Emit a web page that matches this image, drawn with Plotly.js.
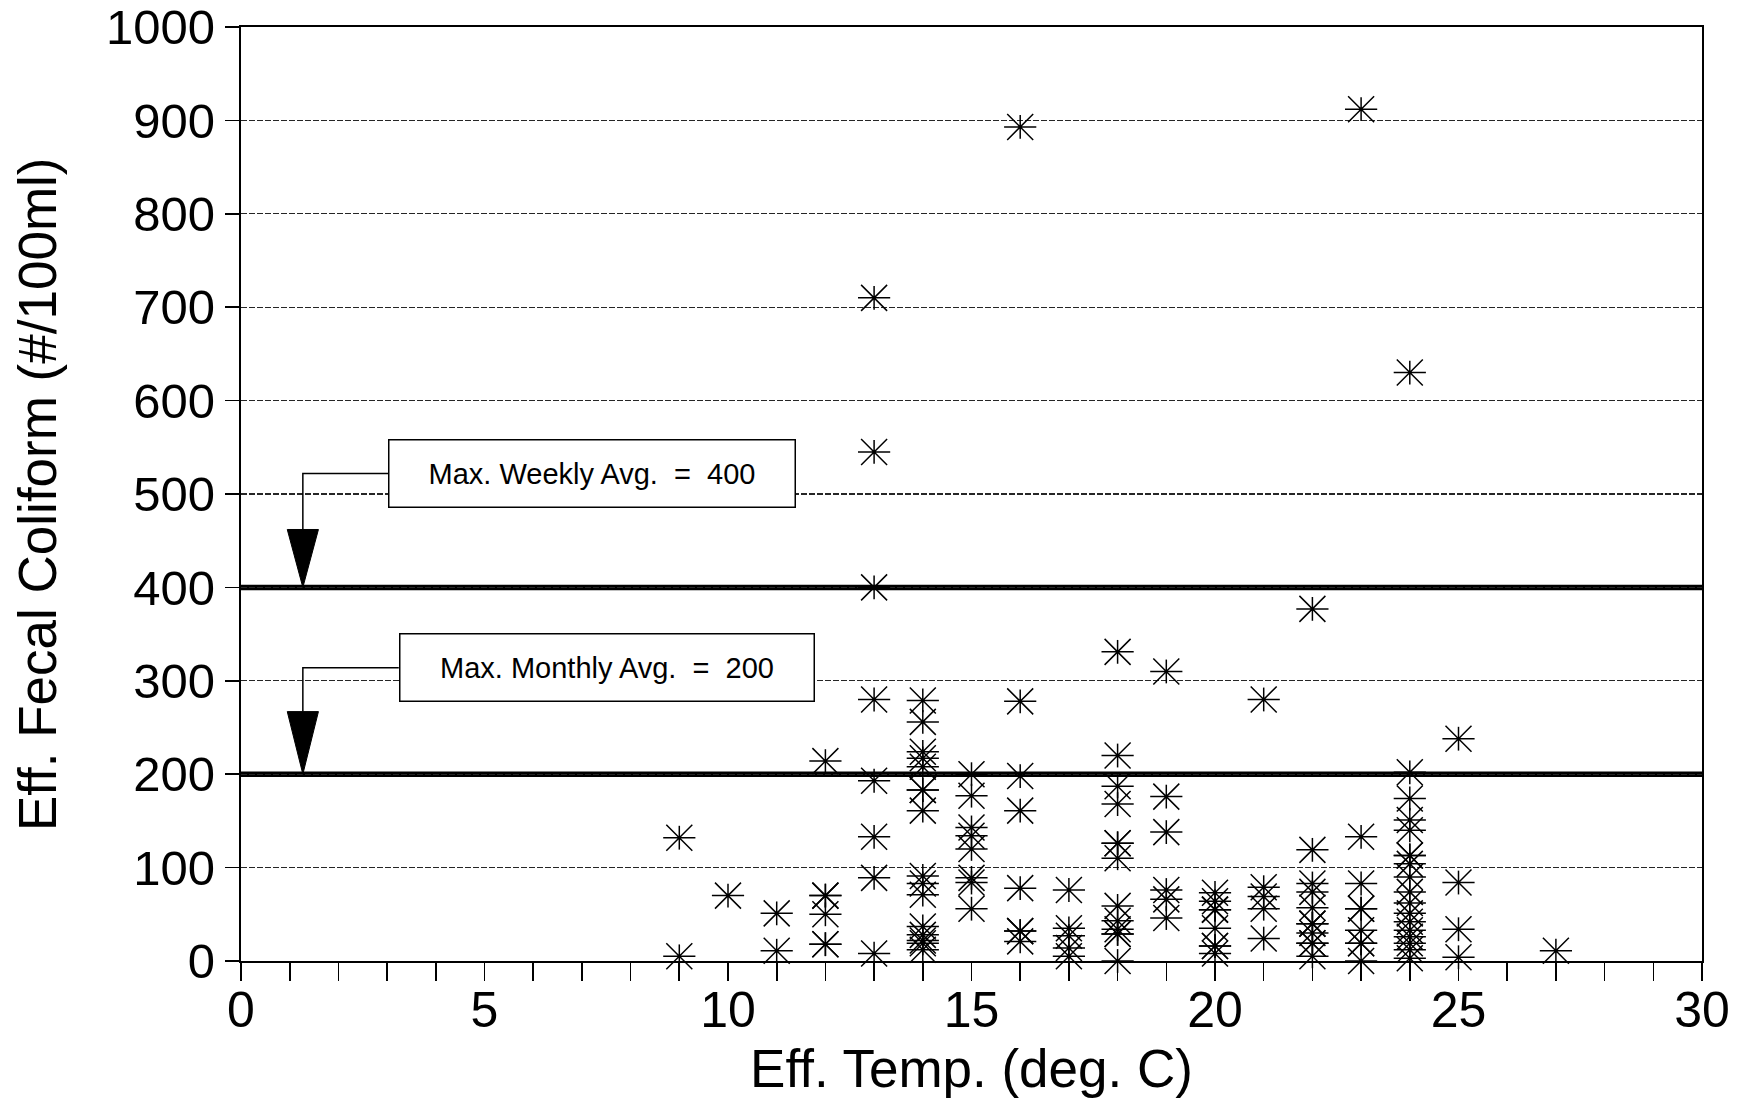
<!DOCTYPE html>
<html>
<head>
<meta charset="utf-8">
<script src="https://cdn.plot.ly/plotly-3.0.1.min.js"></script>
<style>
  html, body { margin: 0; padding: 0; background: #ffffff; }
  #chart { width: 1749px; height: 1098px; }
</style>
</head>
<body>
<div id="chart"></div>
<script>
// ---- Data ----
const effTempC = [
  9, 9,
  10,
  11, 11,
  12, 12, 12, 12, 12, 12,
  13, 13, 13, 13, 13, 13, 13, 13,
  14, 14, 14, 14, 14, 14, 14, 14, 14, 14, 14, 14, 14, 14, 14, 14,
  15, 15, 15, 15, 15, 15, 15, 15,
  16, 16, 16, 16, 16, 16, 16, 16,
  17, 17, 17, 17, 17,
  18, 18, 18, 18, 18, 18, 18, 18, 18, 18, 18, 18, 18,
  19, 19, 19, 19, 19, 19,
  20, 20, 20, 20, 20, 20, 20, 20,
  21, 21, 21, 21, 21,
  22, 22, 22, 22, 22, 22, 22, 22, 22, 22, 22,
  23, 23, 23, 23, 23, 23, 23, 23, 23,
  24, 24, 24, 24, 24, 24, 24, 24, 24, 24, 24, 24, 24, 24, 24, 24, 24, 24,
  25, 25, 25, 25,
  27
];
const effFecalColiform = [
  5, 132,
  70,
  51, 11,
  214, 70, 70, 50, 18, 18,
  710, 545, 400, 280, 193, 133, 89, 8,
  279, 256, 224, 217, 208, 183, 183, 161, 91, 83, 71, 37, 28, 22, 19, 12,
  200, 177, 143, 134, 120, 89, 84, 56,
  893, 278, 198, 161, 78, 32, 32, 21,
  76, 35, 27, 14, 5,
  331, 220, 187, 168, 126, 126, 110, 59, 43, 34, 29, 29, 0,
  310, 176, 138, 76, 66, 46,
  73, 64, 55, 55, 35, 16, 16, 8,
  280, 79, 69, 56, 24,
  377, 119, 83, 74, 57, 40, 40, 30, 19, 19, 5,
  912, 133, 83, 56, 56, 33, 19, 19, 0,
  630, 202, 174, 151, 140, 113, 113, 104, 90, 74, 62, 51, 42, 33, 26, 19, 12, 3,
  238, 84, 34, 4,
  11
];
const yTickVals = [0, 100, 200, 300, 400, 500, 600, 700, 800, 900, 1000];
const xTickVals = [0, 5, 10, 15, 20, 25, 30];
const maxWeeklyAvg = 400;
const maxMonthlyAvg = 200;
const NBSP2 = "\u00A0\u00A0";
const weeklyLabel = "Max. Weekly Avg." + NBSP2 + "=" + NBSP2 + maxWeeklyAvg;
const monthlyLabel = "Max. Monthly Avg." + NBSP2 + "=" + NBSP2 + maxMonthlyAvg;
const xTitle = "Eff. Temp. (deg. C)";
const yTitle = "Eff. Fecal Coliform (#/100ml)";

// ---- Styling ----
const FONT = "'Liberation Sans', Arial, Helvetica, sans-serif";
const lineStyle = { color: "#000", width: 1.5 };

function starPart(symbol, size) {
  return {
    type: "scatter", mode: "markers",
    x: effTempC, y: effFecalColiform,
    cliponaxis: false, hoverinfo: "x+y", showlegend: false,
    marker: { symbol: symbol, size: size, color: "#000", line: lineStyle }
  };
}

const traces = [
  starPart("line-ew-open", 23),
  starPart("line-ns-open", 17),
  starPart("x-thin-open", 26),
  { type: "scatter", mode: "markers", x: effTempC, y: effFecalColiform,
    cliponaxis: false, hoverinfo: "skip", showlegend: false,
    marker: { symbol: "circle", size: 4, color: "#000" } }
];

// Box callout geometry (data coordinates)
const weeklyBox = { x: 7.21, y: 522 };
const monthlyBox = { x: 7.52, y: 314 };
const arrowX = 1.27;
const headHalf = 0.32;

function calloutShapes(boxLeftX, boxY, baseY, tipY) {
  return [
    { type: "path", xref: "x", yref: "y",
      path: `M ${boxLeftX} ${boxY} L ${arrowX} ${boxY} L ${arrowX} ${baseY}`,
      line: { color: "#000", width: 1.5 } },
    { type: "path", xref: "x", yref: "y",
      path: `M ${arrowX - headHalf} ${baseY} L ${arrowX + headHalf} ${baseY} L ${arrowX} ${tipY} Z`,
      fillcolor: "#000", line: { color: "#000", width: 1 } }
  ];
}

const layout = {
  width: 1749, height: 1098,
  paper_bgcolor: "#ffffff", plot_bgcolor: "#ffffff",
  margin: { l: 241, r: 47, t: 27, b: 137, pad: 0 },
  font: { family: FONT, color: "#000" },
  showlegend: false,
  xaxis: {
    range: [0, 30], tickmode: "array", tickvals: xTickVals,
    showgrid: false, zeroline: false,
    showline: true, mirror: true, linecolor: "#000", linewidth: 2.2,
    ticks: "outside", ticklen: 18, tickwidth: 1.6, tickcolor: "#000",
    minor: { dtick: 1, tick0: 0, ticks: "outside", ticklen: 18, tickwidth: 1.6, tickcolor: "#000", showgrid: false },
    ticklabelstandoff: -14, ticklabeloverflow: "allow",
    tickfont: { family: FONT, size: 50, color: "#000" },
    title: { text: xTitle, font: { family: FONT, size: 53, color: "#000" }, standoff: 28 }
  },
  yaxis: {
    range: [0, 1000], tickmode: "array", tickvals: yTickVals,
    showgrid: true, gridcolor: "#262626", gridwidth: 1.1, griddash: "6px,2px",
    zeroline: false,
    showline: true, mirror: true, linecolor: "#000", linewidth: 2.2,
    ticks: "outside", ticklen: 14, tickwidth: 1.6, tickcolor: "#000",
    ticklabeloverflow: "allow",
    tickfont: { family: FONT, size: 49, color: "#000" },
    title: { text: "" }
  },
  shapes: [
    { type: "line", xref: "paper", yref: "y", x0: 0, x1: 1, y0: maxWeeklyAvg, y1: maxWeeklyAvg,
      line: { color: "#000", width: 5.5 }, layer: "between" },
    { type: "line", xref: "paper", yref: "y", x0: 0, x1: 1, y0: maxMonthlyAvg, y1: maxMonthlyAvg,
      line: { color: "#000", width: 5.5 }, layer: "between" },
    ...calloutShapes(3.02, weeklyBox.y, 462, maxWeeklyAvg),
    ...calloutShapes(3.24, monthlyBox.y, 267, maxMonthlyAvg)
  ],
  annotations: [
    { xref: "paper", yref: "paper", x: -0.1396, y: 0.5, xanchor: "center", yanchor: "middle",
      text: yTitle, textangle: -90, showarrow: false,
      font: { family: FONT, size: 53, color: "#000" } },
    { xref: "x", yref: "y", x: weeklyBox.x, y: weeklyBox.y, text: weeklyLabel, showarrow: false,
      font: { family: FONT, size: 29, color: "#000" }, bgcolor: "#ffffff",
      bordercolor: "#000", borderwidth: 1.5, borderpad: 0, width: 405, height: 66 },
    { xref: "x", yref: "y", x: monthlyBox.x, y: monthlyBox.y, text: monthlyLabel, showarrow: false,
      font: { family: FONT, size: 29, color: "#000" }, bgcolor: "#ffffff",
      bordercolor: "#000", borderwidth: 1.5, borderpad: 0, width: 413, height: 66 }
  ]
};

Plotly.newPlot("chart", traces, layout, { displayModeBar: false, staticPlot: true });
</script>
</body>
</html>
